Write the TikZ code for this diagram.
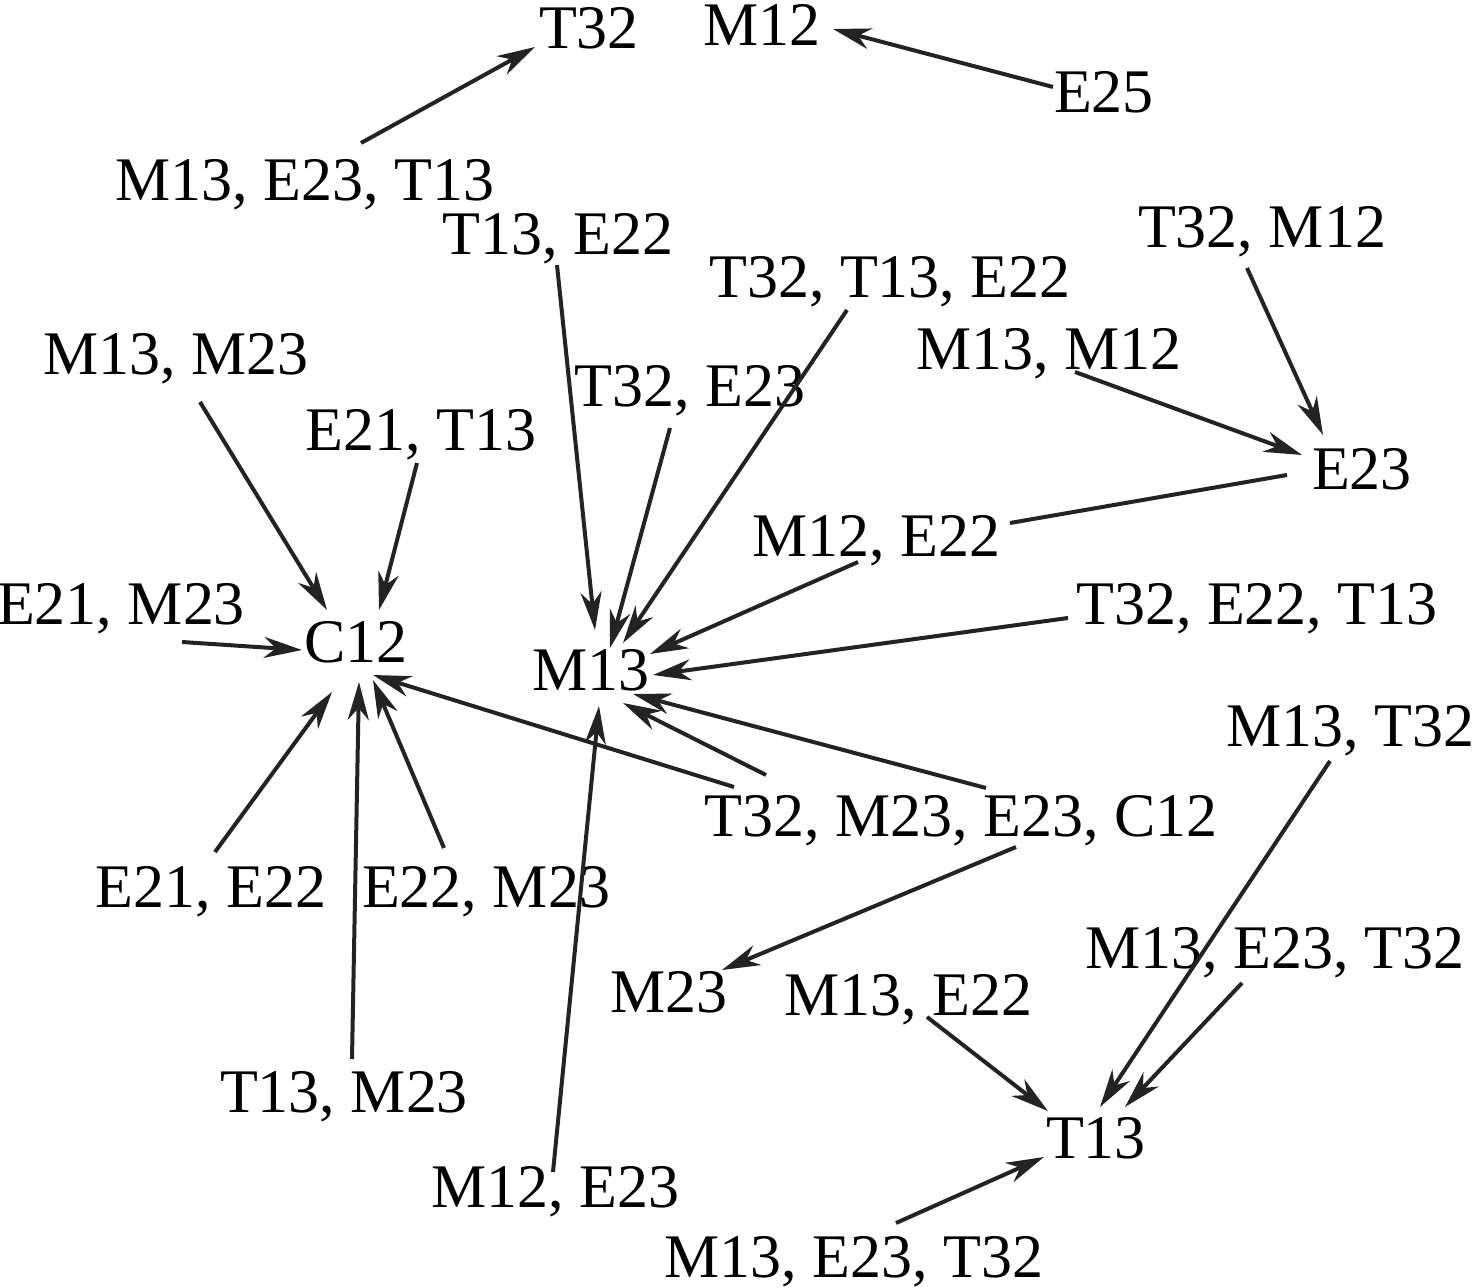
\documentclass[tikz,border=0pt]{standalone}
\usepackage{fontspec}
\setmainfont{Liberation Serif}
\usetikzlibrary{arrows.meta,calc}
\definecolor{edgegray}{HTML}{232323}
\tikzset{
  lbl/.style={inner sep=0pt, anchor=base, font=\fontsize{31}{37}\selectfont, text=black},
  arr/.style={draw=edgegray, line width=2pt, -{Stealth[length=19pt,width=10.5pt,inset=6pt]}},
  plainline/.style={draw=edgegray, line width=2pt}
}
\begin{document}
\begin{tikzpicture}[x=0.5pt,y=-0.5pt]
\useasboundingbox (0,0) rectangle (1474,1288);
\node[lbl] (n1) at (589,49) {T32};
\node[lbl] (n2) at (762,46) {M12};
\node[lbl] (n3) at (1104,113) {E25};
\node[lbl] (n4) at (305,201) {M13, E23, T13};
\node[lbl] (n5) at (558,255) {T13, E22};
\node[lbl] (n6) at (890,298) {T32, T13, E22};
\node[lbl] (n7) at (1262,248) {T32, M12};
\node[lbl] (n8) at (1049,370) {M13, M12};
\node[lbl] (n9) at (176,375) {M13, M23};
\node[lbl] (n10) at (690,407) {T32, E23};
\node[lbl] (n11) at (421,451) {E21, T13};
\node[lbl] (n12) at (1362,490) {E23};
\node[lbl] (n13) at (876,557) {M12, E22};
\node[lbl] (n14) at (121,625) {E21, M23};
\node[lbl] (n15) at (356,663) {C12};
\node[lbl] (n16) at (1257,625) {T32, E22, T13};
\node[lbl] (n17) at (591,691) {M13};
\node[lbl] (n18) at (1350,747) {M13, T32};
\node[lbl] (n19) at (961,837) {T32, M23, E23, C12};
\node[lbl] (n20) at (211,907) {E21, E22};
\node[lbl] (n21) at (486,907) {E22, M23};
\node[lbl] (n22) at (1275,969) {M13, E23, T32};
\node[lbl] (n23) at (669,1012) {M23};
\node[lbl] (n24) at (908,1015) {M13, E22};
\node[lbl] (n25) at (344,1112) {T13, M23};
\node[lbl] (n26) at (1096,1158) {T13};
\node[lbl] (n27) at (555,1207) {M12, E23};
\node[lbl] (n28) at (854,1277) {M13, E23, T32};

\draw[arr] ($(n4.base)+(56,-58)$) -- ($(n1.base)+(-54,-2)$);
\draw[arr] ($(n3.base)+(-51,-26)$) -- ($(n2.base)+(71,-17)$);
\draw[arr] ($(n5.base)+(-1,10)$) -- ($(n17.base)+(4,-61)$);
\draw[arr] ($(n6.base)+(-43,12)$) -- ($(n17.base)+(32,-48)$);
\draw[arr] ($(n10.base)+(-20,21)$) -- ($(n17.base)+(19,-43)$);
\draw[arr] ($(n13.base)+(-18,5)$) -- ($(n17.base)+(59,-37)$);
\draw[arr] ($(n16.base)+(-189,-7)$) -- ($(n17.base)+(62,-16)$);
\draw[arr] ($(n19.base)+(-195,-62)$) -- ($(n17.base)+(32,12)$);
\draw[arr] ($(n19.base)+(25,-49)$) -- ($(n17.base)+(42,3)$);
\draw[arr] ($(n19.base)+(-227,-50)$) -- ($(n15.base)+(17,12)$);
\draw[arr] ($(n27.base)+(-2,-35)$) -- ($(n17.base)+(8,15)$);
\draw[arr] ($(n19.base)+(55,10)$) -- ($(n23.base)+(53,-42)$);
\draw[arr] ($(n9.base)+(24,27)$) -- ($(n15.base)+(-29,-53)$);
\draw[arr] ($(n11.base)+(-4,12)$) -- ($(n15.base)+(23,-53)$);
\draw[arr] ($(n14.base)+(61,17)$) -- ($(n15.base)+(-54,-13)$);
\draw[arr] ($(n20.base)+(4,-55)$) -- ($(n15.base)+(-24,29)$);
\draw[arr] ($(n25.base)+(8,-53)$) -- ($(n15.base)+(3,19)$);
\draw[arr] ($(n21.base)+(-42,-59)$) -- ($(n15.base)+(17,17)$);
\draw[arr] ($(n7.base)+(-15,20)$) -- ($(n12.base)+(-39,-55)$);
\draw[arr] ($(n8.base)+(26,2)$) -- ($(n12.base)+(-60,-35)$);
\draw[plainline] ($(n12.base)+(-75,-15)$) -- ($(n13.base)+(134,-34)$);
\draw[arr] ($(n18.base)+(-20,14)$) -- ($(n26.base)+(4,-51)$);
\draw[arr] ($(n22.base)+(-33,14)$) -- ($(n26.base)+(29,-51)$);
\draw[arr] ($(n24.base)+(19,2)$) -- ($(n26.base)+(-48,-47)$);
\draw[arr] ($(n28.base)+(42,-54)$) -- ($(n26.base)+(-52,-1)$);
\end{tikzpicture}
\end{document}
